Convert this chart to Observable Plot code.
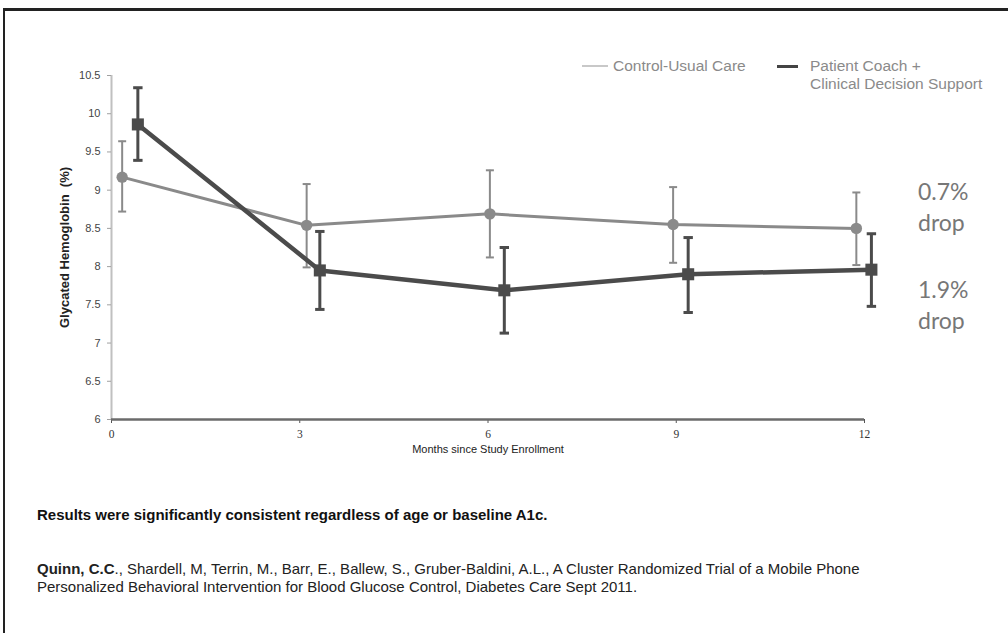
<!DOCTYPE html>
<html>
<head>
<meta charset="utf-8">
<script src="https://cdn.jsdelivr.net/npm/d3@7"></script>
<script src="https://cdn.jsdelivr.net/npm/@observablehq/plot@0.6"></script>
<style>
  html, body { margin: 0; padding: 0; background: #fff; }
  #wrap { position: relative; width: 1008px; height: 633px; overflow: hidden; font-family: "Liberation Sans", Arial, sans-serif; }
  #frame { position: absolute; left: 3px; top: 8px; width: 1200px; height: 800px; border-left: 2px solid #222; border-top: 3px solid #222; box-sizing: border-box; }
  #chart { position: absolute; left: 0; top: 0; }
  .abs { position: absolute; white-space: nowrap; }
  .legtext { font-size: 15.5px; line-height: 18px; color: #8a8a8a; }
  .note { font-family: Lato, "Open Sans", sans-serif; font-size: 23px; line-height: 31px; color: #777; }
  .foot { font-size: 15px; line-height: 18px; color: #111; }
</style>
</head>
<body>
<div id="wrap">
  <div id="frame"></div>
  <div id="chart"></div>
</div>
<script>
// ---- data ----
const months = [0, 3, 6, 9, 12];
const xTickLabels = ["0", "3", "6", "9", "12"];
const yTicks = [6, 6.5, 7, 7.5, 8, 8.5, 9, 9.5, 10, 10.5];
const yTickLabels = ["6", "6.5", "7", "7.5", "8", "8.5", "9", "9.5", "10", "10.5"];

const seriesNames = ["Control-Usual Care", "Patient Coach +\nClinical Decision Support"];

// Control-Usual Care (points drawn slightly left of each month)
const controlX    = [0.17, 3.11, 6.03, 8.95, 11.87];
const controlMean = [9.17, 8.54, 8.69, 8.55, 8.50];
const controlLow  = [8.72, 7.99, 8.12, 8.05, 8.02];
const controlHigh = [9.64, 9.08, 9.26, 9.04, 8.97];

// Patient Coach + Clinical Decision Support (points drawn slightly right)
const coachX    = [0.42, 3.32, 6.26, 9.19, 12.11];
const coachMean = [9.86, 7.95, 7.69, 7.90, 7.96];
const coachLow  = [9.39, 7.44, 7.13, 7.40, 7.48];
const coachHigh = [10.34, 8.46, 8.25, 8.38, 8.43];

const notes = [["0.7%", "drop"], ["1.9%", "drop"]];
const resultText = "Results were significantly consistent regardless of age or baseline A1c.";
const citeBold = "Quinn, C.C";
const citeRest1 = "., Shardell, M, Terrin, M., Barr, E., Ballew, S., Gruber-Baldini, A.L., A Cluster Randomized Trial of a Mobile Phone";
const citeRest2 = "Personalized Behavioral Intervention for Blood Glucose Control, Diabetes Care Sept 2011.";
const yLabel = "Glycated Hemoglobin\u00a0\u00a0(%)";
const xLabel = "Months since Study Enrollment";

// ---- build tables ----
const control = controlX.map((x, i) => ({x, y: controlMean[i], lo: controlLow[i], hi: controlHigh[i]}));
const coach = coachX.map((x, i) => ({x, y: coachMean[i], lo: coachLow[i], hi: coachHigh[i]}));

const cap = {
  draw(context, size) {
    const w = Math.sqrt(size / Math.PI);
    context.moveTo(-w, 0);
    context.lineTo(w, 0);
  }
};

const cGrey = "#8a8a8a";
const cDark = "#4b4b4b";
const sans = "Liberation Sans, Arial, sans-serif";

const plot = Plot.plot({
  width: 1008,
  height: 470,
  marginLeft: 111,
  marginRight: 144,
  marginTop: 75,
  marginBottom: 51,
  x: {domain: [0, 12], axis: null},
  y: {domain: [6, 10.5], axis: null},
  style: {background: "transparent", overflow: "visible", fontFamily: sans, fontSize: "11px"},
  marks: [
    Plot.ruleX([0], {stroke: "#c0c0c0", strokeWidth: 2}),
    Plot.axisY({
      ticks: yTicks,
      tickFormat: d => yTickLabels[yTicks.indexOf(d)],
      tickSize: 4, tickPadding: 7,
      fontSize: 11, fontFamily: sans,
      stroke: "#a0a0a0", color: "#444", label: null
    }),
    Plot.axisX({
      ticks: months,
      tickFormat: d => xTickLabels[months.indexOf(d)],
      tickSize: 4, tickPadding: 6,
      fontSize: 11.5, fontFamily: "Liberation Serif, Times New Roman, serif",
      stroke: "#555", color: "#333", label: null
    }),
    Plot.ruleY([6], {stroke: "#6b6b6b", strokeWidth: 2.6}),
    Plot.text([yLabel], {text: d => d, frameAnchor: "left", textAnchor: "middle", rotate: -90, dx: -47,
      fontSize: 13, fontWeight: "bold", fill: "#222", fontFamily: sans}),
    Plot.text([xLabel], {text: d => d, frameAnchor: "bottom", lineAnchor: "middle", dy: 30,
      fontSize: 11, fill: "#222", fontFamily: sans}),

    // Control series
    Plot.ruleX(control, {x: "x", y1: "lo", y2: "hi", stroke: cGrey, strokeWidth: 2}),
    Plot.dot(control, {x: "x", y: "hi", symbol: cap, r: 4, stroke: cGrey, strokeWidth: 2, fill: "none"}),
    Plot.dot(control, {x: "x", y: "lo", symbol: cap, r: 4, stroke: cGrey, strokeWidth: 2, fill: "none"}),
    Plot.line(control, {x: "x", y: "y", stroke: cGrey, strokeWidth: 3}),
    Plot.dot(control, {x: "x", y: "y", r: 5.7, fill: cGrey, stroke: "none"}),

    // Coach series
    Plot.ruleX(coach, {x: "x", y1: "lo", y2: "hi", stroke: cDark, strokeWidth: 3}),
    Plot.dot(coach, {x: "x", y: "hi", symbol: cap, r: 4.7, stroke: cDark, strokeWidth: 3, fill: "none"}),
    Plot.dot(coach, {x: "x", y: "lo", symbol: cap, r: 4.7, stroke: cDark, strokeWidth: 3, fill: "none"}),
    Plot.line(coach, {x: "x", y: "y", stroke: cDark, strokeWidth: 4.5}),
    Plot.dot(coach, {x: "x", y: "y", symbol: "square", r: 6.8, fill: cDark, stroke: "none"})
  ]
});
document.getElementById("chart").appendChild(plot);

// ---- legend, notes and footer (HTML) ----
const wrap = document.getElementById("wrap");
function add(html, cls, style) {
  const el = document.createElement("div");
  el.className = "abs " + (cls || "");
  el.innerHTML = html;
  Object.assign(el.style, style);
  wrap.appendChild(el);
  return el;
}
// legend
add("", "", {left: "582px", top: "65px", width: "26px", height: "2px", background: "#c8c8c8"});
add(seriesNames[0], "legtext", {left: "613px", top: "57px"});
add("", "", {left: "777px", top: "64.5px", width: "21px", height: "3px", background: "#444"});
add(seriesNames[1].split("\n").join("<br>"), "legtext", {left: "810px", top: "57px"});
// notes
add(notes[0].join("<br>"), "note", {left: "918px", top: "175.5px"});
add(notes[1].join("<br>"), "note", {left: "918px", top: "274px"});
// footer
add(resultText, "foot", {left: "37px", top: "506px", fontWeight: "bold"});
add("<b>" + citeBold + "</b>" + citeRest1 + "<br>" + citeRest2, "foot", {left: "37px", top: "560px", color: "#222"});
</script>
</body>
</html>
